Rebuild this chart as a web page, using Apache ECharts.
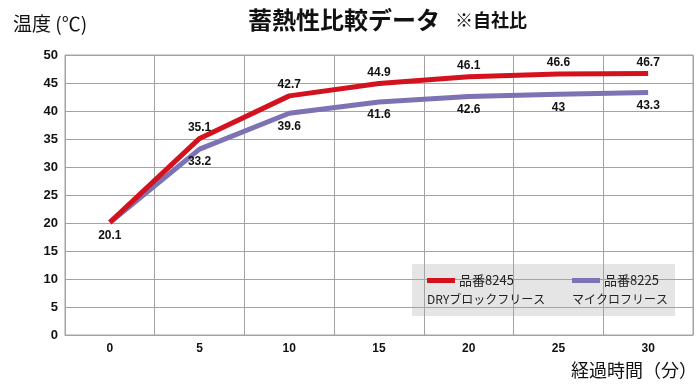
<!DOCTYPE html>
<html>
<head>
<meta charset="utf-8">
<script src="https://cdn.jsdelivr.net/npm/echarts@6/dist/echarts.min.js"></script>
<style>html,body{margin:0;padding:0;background:#fff}#c{width:700px;height:388px}</style>
</head>
<body>
<div id="c"></div>
<script>
const categories = ['0', '5', '10', '15', '20', '25', '30'];
const dryValues = [20.1, 35.1, 42.7, 44.9, 46.1, 46.6, 46.7];
const microValues = [20.1, 33.2, 39.6, 41.6, 42.6, 43, 43.3];
const yTicks = [0, 5, 10, 15, 20, 25, 30, 35, 40, 45, 50];

const JP = '"Noto Sans CJK JP", "Noto Sans", sans-serif';
const NUM = '"Liberation Sans", Arial, sans-serif';
const chart = echarts.init(document.getElementById('c'));
chart.setOption({
  animation: false,
  backgroundColor: '#fff',
  title: {
    left: 243, top: 3,
    text: '{a|蓄熱性比較データ}   {b|※自社比}',
    textStyle: {
      rich: {
        a: { fontFamily: JP, fontSize: 24, fontWeight: 'bold', color: '#111' },
        b: { fontFamily: JP, fontSize: 18, color: '#111' }
      }
    }
  },
  grid: { left: 65, right: 5, top: 55, bottom: 53, show: true, borderColor: '#a3a3a3', borderWidth: 1 },
  legend: [
    { data: ['品番8245'], left: 427, top: 274, padding: 0, icon: 'rect', itemWidth: 28, itemHeight: 5,
      textStyle: { fontFamily: JP, fontSize: 13, color: '#222', padding: [0,0,0,-1] } },
    { data: ['品番8225'], left: 572, top: 274, padding: 0, icon: 'rect', itemWidth: 28, itemHeight: 5,
      textStyle: { fontFamily: JP, fontSize: 13, color: '#222', padding: [0,0,0,-1] } }
  ],
  graphic: [
    { type: 'rect', left: 412, top: 264, z: 0, shape: { width: 263, height: 52 }, style: { fill: '#e5e5e5' } },
    { type: 'text', left: 427, top: 293, z: 10, style: { text: 'DRYブロックフリース', font: '12px ' + JP, fill: '#222' } },
    { type: 'text', left: 572, top: 293, z: 10, style: { text: 'マイクロフリース', font: '12px ' + JP, fill: '#222' } }
  ],
  xAxis: {
    type: 'category', data: categories, boundaryGap: true,
    name: '経過時間（分）', nameLocation: 'end', nameGap: 4,
    nameTextStyle: { fontFamily: JP, fontSize: 18, color: '#111', align: 'right', verticalAlign: 'top', padding: [26, 0, 0, 0] },
    axisLine: { lineStyle: { color: '#a3a3a3' } },
    axisTick: { show: false },
    axisLabel: { margin: 8, fontFamily: NUM, fontWeight: 'bold', fontSize: 12, color: '#111' },
    splitLine: { show: true, lineStyle: { color: '#a3a3a3' } }
  },
  yAxis: {
    type: 'value', min: yTicks[0], max: yTicks[yTicks.length - 1], interval: 5,
    name: '温度 (℃)', nameLocation: 'end', nameGap: 22,
    nameTextStyle: { fontFamily: JP, fontSize: 19, color: '#111', align: 'center', padding: [0, 30, 0, 0] },
    axisLine: { show: true, lineStyle: { color: '#a3a3a3' } },
    axisTick: { show: false },
    axisLabel: { margin: 7, fontFamily: NUM, fontWeight: 'bold', fontSize: 13, color: '#111' },
    splitLine: { lineStyle: { color: '#a3a3a3' } }
  },
  series: [
    {
      name: '品番8245', type: 'line', data: dryValues, symbol: 'circle', symbolSize: 0, showSymbol: true,
      color: '#d4121e', lineStyle: { width: 5, color: '#d4121e' }, z: 3,
      label: { show: true, position: 'top', distance: 5, fontFamily: NUM, fontWeight: 'bold', fontSize: 12, color: '#111',
        formatter: p => p.dataIndex === 0 ? '' : String(p.value) }
    },
    {
      name: '品番8225', type: 'line', data: microValues, symbol: 'circle', symbolSize: 0, showSymbol: true,
      color: '#7c72b4', lineStyle: { width: 5, color: '#7c72b4' }, z: 2,
      label: { show: true, position: 'bottom', distance: 7, fontFamily: NUM, fontWeight: 'bold', fontSize: 12, color: '#111' }
    }
  ]
});
</script>
</body>
</html>
